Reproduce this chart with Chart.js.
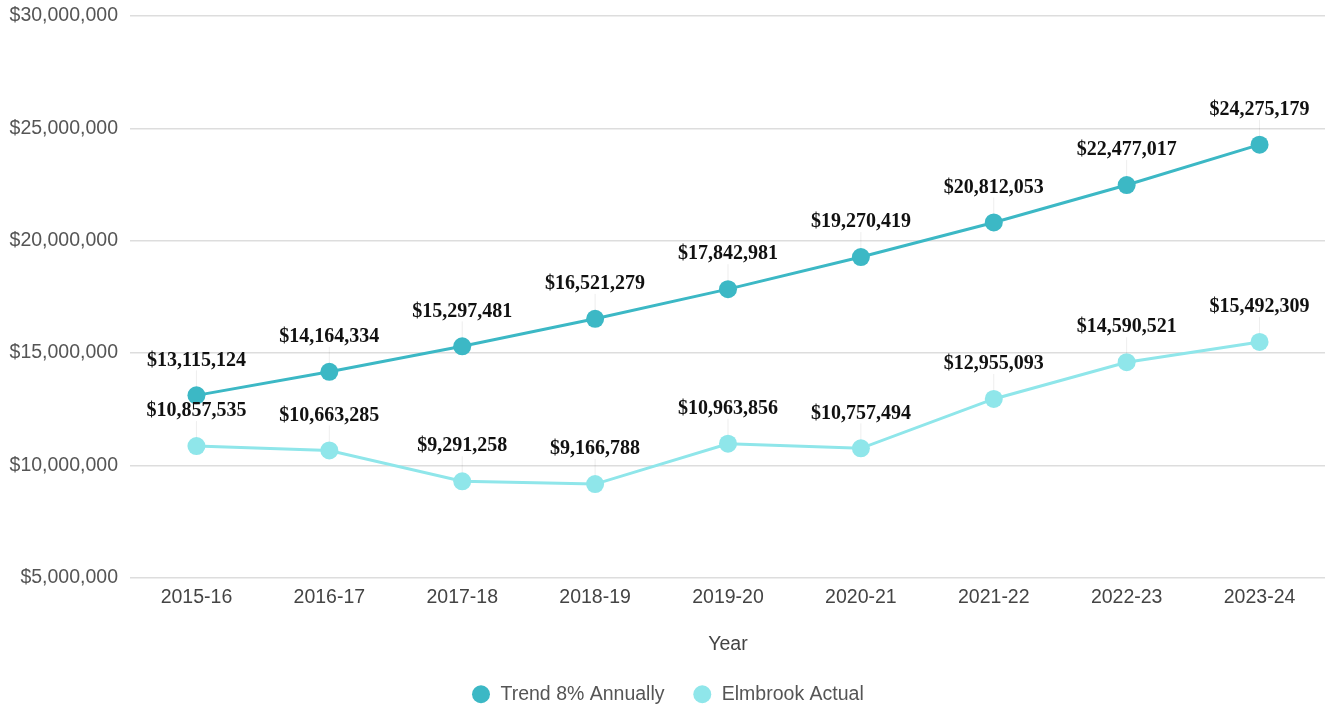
<!DOCTYPE html>
<html>
<head>
<meta charset="utf-8">
<script src="https://cdn.jsdelivr.net/npm/chart.js@4"></script>
<style>
  html, body { margin: 0; padding: 0; background: #fff; overflow: hidden; }
  #wrap { width: 1335px; height: 714px; }
</style>
</head>
<body>
<div id="wrap"><canvas id="chart"></canvas></div>
<script>
// === DATA ===
const years = ["2015-16", "2016-17", "2017-18", "2018-19", "2019-20", "2020-21", "2021-22", "2022-23", "2023-24"];
const trendValues = [13115124, 14164334, 15297481, 16521279, 17842981, 19270419, 20812053, 22477017, 24275179];
const actualValues = [10857535, 10663285, 9291258, 9166788, 10963856, 10757494, 12955093, 14590521, 15492309];
const yTicks = [5000000, 10000000, 15000000, 20000000, 25000000, 30000000];

const TREND_COLOR = "#3cb8c5";
const ACTUAL_COLOR = "#8fe6ea";
const SANS = "Arial, 'Liberation Sans', sans-serif";

function money(v) {
  return "$" + v.toLocaleString("en-US");
}

// label nilai di atas titik, dengan garis tipis ke titik
const valueLabels = {
  id: "valueLabels",
  afterDatasetsDraw(chart) {
    const ctx = chart.ctx;
    ctx.save();
    chart.data.datasets.forEach((ds, i) => {
      const meta = chart.getDatasetMeta(i);
      meta.data.forEach((pt, j) => {
        const x = pt.x, y = pt.y;
        ctx.strokeStyle = "rgba(0,0,0,0.07)";
        ctx.lineWidth = 1;
        ctx.beginPath();
        ctx.moveTo(x, y - 25);
        ctx.lineTo(x, y - 9);
        ctx.stroke();
        ctx.fillStyle = "#111";
        ctx.font = "bold 20px 'Liberation Serif', 'Times New Roman', serif";
        ctx.textAlign = "center";
        ctx.textBaseline = "middle";
        ctx.fillText(money(ds.data[j]), x, y - 35);
      });
    });
    ctx.restore();
  }
};

new Chart(document.getElementById("chart"), {
  type: "line",
  data: {
    labels: years,
    datasets: [
      {
        label: "Trend 8% Annually",
        data: trendValues,
        borderColor: TREND_COLOR,
        backgroundColor: TREND_COLOR,
        borderWidth: 3,
        pointRadius: 9,
        pointHoverRadius: 9,
        pointBorderWidth: 0,
        tension: 0
      },
      {
        label: "Elmbrook Actual",
        data: actualValues,
        borderColor: ACTUAL_COLOR,
        backgroundColor: ACTUAL_COLOR,
        borderWidth: 3,
        pointRadius: 9,
        pointHoverRadius: 9,
        pointBorderWidth: 0,
        tension: 0
      }
    ]
  },
  options: {
    responsive: true,
    maintainAspectRatio: false,
    animation: false,
    layout: { padding: 0 },
    plugins: {
      tooltip: { enabled: false },
      legend: {
        position: "bottom",
        labels: {
          usePointStyle: true,
          pointStyle: "circle",
          boxWidth: 19.5,
          boxHeight: 12.7,
          padding: 28,
          color: "#555",
          font: { family: SANS, size: 19.5 }
        }
      }
    },
    scales: {
      x: {
        offset: true,
        grid: { display: false, drawTicks: false },
        border: { display: false },
        ticks: {
          color: "#444",
          padding: 8,
          font: { family: SANS, size: 19.5 }
        },
        title: {
          display: true,
          text: "Year",
          color: "#444",
          padding: { top: 16, bottom: 0 },
          font: { family: SANS, size: 19.5 }
        }
      },
      y: {
        min: 5000000,
        max: 30000000,
        afterBuildTicks(scale) {
          scale.ticks = yTicks.map(v => ({ value: v }));
        },
        afterFit(scale) {
          scale.width = 130;
          scale.paddingTop = 16;
          scale.paddingBottom = 0;
        },
        grid: { color: "#ddd", lineWidth: 1.5, drawTicks: false },
        border: { display: false },
        ticks: {
          color: "#555",
          padding: 12,
          font: { family: SANS, size: 19.5 },
          callback: v => money(v)
        }
      }
    }
  },
  plugins: [valueLabels]
});
</script>
</body>
</html>
